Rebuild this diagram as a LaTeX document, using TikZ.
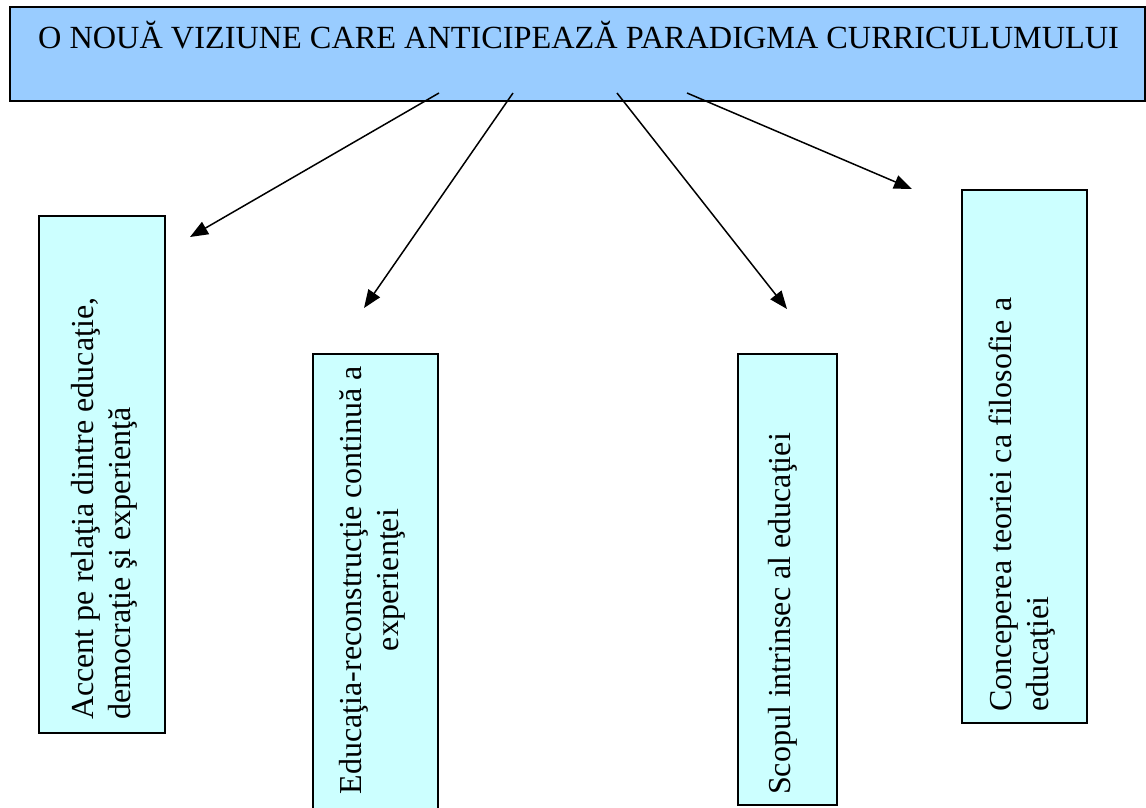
\documentclass[tikz,border=0pt]{standalone}
\usepackage{fontspec}
\setmainfont{Liberation Serif}
\usetikzlibrary{arrows.meta}
\definecolor{topblue}{HTML}{99CCFF}
\definecolor{boxcyan}{HTML}{CCFFFF}
\begin{document}
\begin{tikzpicture}[x=1pt,y=-1pt,
  boxstyle/.style={draw=black,line width=1.8pt,fill=boxcyan},
  topstyle/.style={draw=black,line width=1.8pt,fill=topblue},
  txt/.style={inner sep=0pt,font=\fontsize{32}{36.8}\selectfont},
  vtxt/.style={txt,rotate=90},
  arr/.style={line width=1.5pt,-{Triangle[length=18pt,width=14pt]}}]
\useasboundingbox (0,0) rectangle (1146,807);
% top box
\path[topstyle] (10,7) rectangle (1145,101);
\node[txt,anchor=base west,font=\fontsize{32.3}{37}\selectfont] (title) at (38,48) {O NOUĂ VIZIUNE CARE ANTICIPEAZĂ PARADIGMA CURRICULUMULUI};
% vertical boxes
\path[boxstyle] (39,216) rectangle (165,733);
\path[boxstyle] (313,354) rectangle (438,812);
\path[boxstyle] (738,354) rectangle (837,805);
\path[boxstyle] (962,190) rectangle (1087,723);
% box texts
\node[vtxt,anchor=base west] (b1a) at (93,720) {Accent pe relaţia dintre educaţie,};
\node[vtxt,anchor=base west] (b1b) at (130,720) {democraţie şi experienţă};
\node[vtxt,anchor=base] (b2a) at (361,580) {Educaţia-reconstrucţie continuă a};
\node[vtxt,anchor=base] (b2b) at (398,580) {experienţei};
\node[vtxt,anchor=base west] (b3a) at (790,795) {Scopul intrinsec al educaţiei};
\node[vtxt,anchor=base west] (b4a) at (1011,712) {Conceperea teoriei ca filosofie a};
\node[vtxt,anchor=base west] (b4b) at (1048,712) {educaţiei};
% arrow endpoints
\coordinate (s1) at (439,93);
\coordinate (s2) at (513,93);
\coordinate (s3) at (617,93);
\coordinate (s4) at (687,93);
\coordinate (e1) at (190,237);
\coordinate (e2) at (364,308);
\coordinate (e3) at (787,309);
\coordinate (e4) at (912,189);
\draw[arr] (s1) -- (e1);
\draw[arr] (s2) -- (e2);
\draw[arr] (s3) -- (e3);
\draw[arr] (s4) -- (e4);
\end{tikzpicture}
\end{document}
